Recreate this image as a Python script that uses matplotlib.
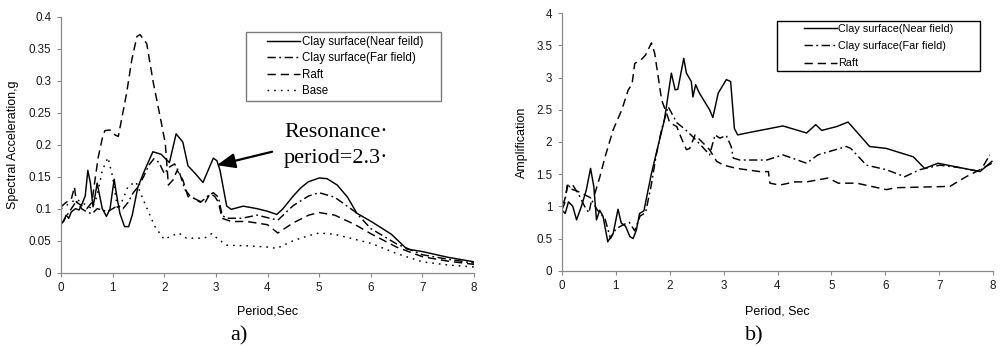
import numpy as np
import matplotlib
matplotlib.use("Agg")
import matplotlib.pyplot as plt
from matplotlib.legend_handler import HandlerLine2D
from matplotlib.ticker import MultipleLocator, FuncFormatter

plt.rcParams["font.family"] = ["Liberation Sans", "DejaVu Sans"]
plt.rcParams["lines.scale_dashes"] = False

# ---------------- a) spectral acceleration (g) vs period (s) ----------------
sa_near_t = [0, 0.05, 0.1, 0.15, 0.2, 0.28, 0.35, 0.42, 0.47, 0.52, 0.57, 0.62, 0.66,
             0.70, 0.75, 0.8, 0.88, 0.95, 1.03, 1.08, 1.14, 1.23, 1.31, 1.38, 1.49,
             1.62, 1.78, 1.94, 2.1, 2.23, 2.36, 2.46, 2.6, 2.75, 2.85, 2.95, 3.02,
             3.08, 3.21, 3.3, 3.53, 3.8, 4.0, 4.18, 4.3, 4.49, 4.65, 4.79, 5.0, 5.15,
             5.35, 5.55, 5.73, 6.05, 6.4, 6.7, 7.0, 7.5, 8.0]
sa_near = [0.077, 0.08, 0.09, 0.085, 0.095, 0.1, 0.098, 0.11, 0.12, 0.16, 0.14, 0.103,
           0.12, 0.14, 0.12, 0.1, 0.088, 0.1, 0.146, 0.12, 0.093, 0.072, 0.072, 0.09,
           0.134, 0.16, 0.189, 0.185, 0.172, 0.217, 0.204, 0.167, 0.155, 0.141, 0.16,
           0.179, 0.175, 0.16, 0.104, 0.099, 0.104, 0.1, 0.096, 0.091, 0.1, 0.119,
           0.133, 0.142, 0.148, 0.147, 0.137, 0.118, 0.093, 0.078, 0.06, 0.037, 0.033,
           0.024, 0.017]

sa_far_t = [0, 0.1, 0.2, 0.3, 0.4, 0.5, 0.6, 0.7, 0.8, 0.9, 1.0, 1.1, 1.2, 1.3, 1.4,
            1.5, 1.6, 1.7, 1.8, 1.9, 2.0, 2.1, 2.2, 2.3, 2.4, 2.5, 2.7, 2.85, 2.95,
            3.05, 3.12, 3.2, 3.5, 3.8, 4.0, 4.2, 4.5, 4.8, 5.0, 5.3, 5.7, 6.0, 6.5,
            7.0, 7.5, 8.0]
sa_far = [0.075, 0.088, 0.1, 0.112, 0.1, 0.095, 0.092, 0.1, 0.098, 0.095, 0.1, 0.105,
          0.1, 0.11, 0.125, 0.135, 0.15, 0.168, 0.178, 0.172, 0.155, 0.165, 0.17,
          0.155, 0.13, 0.12, 0.11, 0.12, 0.125, 0.118, 0.09, 0.085, 0.085, 0.09,
          0.086, 0.082, 0.105, 0.12, 0.125, 0.118, 0.095, 0.069, 0.045, 0.028,
          0.021, 0.015]

sa_raft_t = [0, 0.1, 0.2, 0.26, 0.3, 0.4, 0.5, 0.6, 0.65, 0.72, 0.8, 0.85, 0.95, 1.05,
             1.11, 1.27, 1.37, 1.47, 1.53, 1.66, 1.79, 1.92, 2.02, 2.08, 2.17, 2.25,
             2.36, 2.46, 2.58, 2.78, 2.89, 2.98, 3.05, 3.12, 3.3, 3.6, 4.0, 4.2, 4.5,
             4.8, 5.0, 5.3, 5.7, 6.0, 6.5, 7.0, 7.5, 8.0]
sa_raft = [0.103, 0.11, 0.115, 0.134, 0.11, 0.105, 0.1, 0.11, 0.14, 0.18, 0.21, 0.222,
           0.223, 0.215, 0.213, 0.28, 0.332, 0.369, 0.372, 0.358, 0.296, 0.244, 0.202,
           0.137, 0.145, 0.16, 0.145, 0.119, 0.116, 0.108, 0.124, 0.119, 0.11, 0.085,
           0.08, 0.08, 0.075, 0.062, 0.078, 0.09, 0.094, 0.09, 0.075, 0.061, 0.04,
           0.025, 0.018, 0.013]

sa_base_t = [0, 0.1, 0.2, 0.3, 0.4, 0.5, 0.6, 0.7, 0.8, 0.91, 1.0, 1.1, 1.2, 1.3,
             1.45, 1.62, 1.82, 2.0, 2.1, 2.28, 2.43, 2.6, 2.78, 2.92, 3.05, 3.21, 3.6,
             4.0, 4.18, 4.5, 4.8, 5.0, 5.3, 5.7, 6.0, 6.5, 7.0, 7.5, 8.0]
sa_base = [0.1, 0.105, 0.11, 0.115, 0.11, 0.105, 0.1, 0.12, 0.16, 0.18, 0.15, 0.098,
           0.115, 0.135, 0.142, 0.109, 0.072, 0.052, 0.056, 0.062, 0.054, 0.054,
           0.054, 0.061, 0.052, 0.043, 0.042, 0.04, 0.038, 0.05, 0.058, 0.062, 0.06,
           0.052, 0.046, 0.03, 0.017, 0.012, 0.009]

# ---------------- b) amplification vs period (s) ----------------
amp_near_t = [0, 0.06, 0.12, 0.2, 0.27, 0.36, 0.45, 0.53, 0.59, 0.64, 0.7, 0.76, 0.85,
              0.95, 1.04, 1.1, 1.18, 1.26, 1.32, 1.38, 1.44, 1.52, 1.66, 1.78, 1.9,
              2.03, 2.1, 2.15, 2.26, 2.31, 2.4, 2.43, 2.48, 2.55, 2.74, 2.8, 2.9, 3.05,
              3.13, 3.2, 3.26, 3.49, 3.8, 4.1, 4.3, 4.54, 4.71, 4.82, 5.1, 5.31, 5.71,
              6.02, 6.52, 6.73, 6.98, 7.4, 7.76, 7.98]
amp_near = [0.94, 0.89, 1.07, 1.0, 0.79, 1.0, 1.25, 1.59, 1.31, 0.79, 0.94, 0.85, 0.45,
            0.58, 0.955, 0.74, 0.69, 0.53, 0.5, 0.63, 0.89, 0.93, 1.51, 1.93, 2.34,
            3.07, 2.81, 2.82, 3.3, 3.07, 2.94, 2.7, 2.89, 2.76, 2.5, 2.38, 2.76, 2.97,
            2.94, 2.21, 2.11, 2.15, 2.2, 2.25, 2.2, 2.14, 2.27, 2.18, 2.24, 2.31, 1.93,
            1.9, 1.77, 1.59, 1.67, 1.6, 1.54, 1.7]

amp_far_t = [0, 0.05, 0.1, 0.15, 0.2, 0.3, 0.42, 0.5, 0.55, 0.65, 0.8, 0.9, 1.0, 1.15,
             1.25, 1.35, 1.45, 1.55, 1.65, 1.75, 1.85, 1.97, 2.13, 2.28, 2.43, 2.6,
             2.74, 2.84, 2.93, 3.05, 3.14, 3.18, 3.3, 3.67, 3.8, 4.1, 4.54, 4.75, 5.28,
             5.36, 5.65, 6.02, 6.36, 6.64, 7.01, 7.4, 7.76, 7.94]
amp_far = [0.95, 1.05, 1.35, 1.3, 1.33, 1.2, 1.0, 0.9, 1.1, 0.95, 0.8, 0.5, 0.65, 0.72,
           0.75, 0.62, 0.85, 0.9, 1.3, 1.8, 2.2, 2.55, 2.3, 2.2, 2.08, 1.93, 1.8, 2.11,
           2.06, 2.1, 1.93, 1.75, 1.72, 1.72, 1.72, 1.8, 1.67, 1.8, 1.93, 1.9, 1.64,
           1.57, 1.46, 1.57, 1.64, 1.6, 1.54, 1.8]

amp_raft_t = [0, 0.05, 0.11, 0.17, 0.3, 0.42, 0.54, 0.61, 0.7, 0.8, 0.95, 1.11, 1.23,
              1.3, 1.35, 1.47, 1.55, 1.66, 1.72, 1.85, 1.94, 2.0, 2.13, 2.22, 2.31,
              2.37, 2.47, 2.6, 2.74, 2.87, 3.0, 3.24, 3.67, 3.83, 3.86, 4.04, 4.32,
              4.54, 4.94, 5.13, 5.47, 6.02, 6.2, 6.7, 7.2, 7.5, 7.76, 7.98]
amp_raft = [1.02, 1.1, 1.33, 1.27, 1.23, 1.18, 1.13, 1.2, 1.45, 1.77, 2.19, 2.5, 2.81,
            2.9, 3.22, 3.28, 3.35, 3.54, 3.38, 2.65, 2.45, 2.3, 2.24, 2.05, 1.88, 1.9,
            2.11, 2.0, 1.88, 1.7, 1.64, 1.59, 1.54, 1.54, 1.36, 1.33, 1.38, 1.38,
            1.44, 1.36, 1.36, 1.26, 1.29, 1.3, 1.31, 1.46, 1.57, 1.67]

labels_a = ["Clay surface(Near feild)", "Clay surface(Far field)", "Raft", "Base"]
labels_b = ["Clay surface(Near field)", "Clay surface(Far field)", "Raft"]

STYLE_NEAR = "-"
STYLE_FAR = (0, (6, 2.5, 1.3, 2.5))
STYLE_RAFT = (0, (6, 3.5))
STYLE_BASE = (0, (1.2, 3.6))
LW = 1.05
SPINE = "#8a8a8a"


class PaddedLineHandler(HandlerLine2D):
    """Legend line sample that leaves a blank lead-in before the stroke."""

    def __init__(self, lead=0.35, **kw):
        super().__init__(**kw)
        self.lead = lead

    def get_xdata(self, legend, xdescent, ydescent, width, height, fontsize):
        x0 = -xdescent + self.lead * width
        x1 = -xdescent + width
        return np.array([x0, x1]), np.array([0.5 * (x0 + x1)])


W, H = 1001, 347
fig = plt.figure(figsize=(W / 100, H / 100), dpi=100)


def px_axes(left, right, top, bottom):
    return fig.add_axes([left / W, 1 - bottom / H, (right - left) / W, (bottom - top) / H])


def style_axes(ax):
    for s in ("top", "right"):
        ax.spines[s].set_visible(False)
    for s in ("left", "bottom"):
        ax.spines[s].set_color(SPINE)
        ax.spines[s].set_linewidth(0.9)
    ax.tick_params(direction="out", length=3, width=0.8, color=SPINE,
                   labelsize=8.4, labelcolor="#1a1a1a", pad=4)
    ax.xaxis.set_major_locator(MultipleLocator(1))
    ax.set_xlim(0, 8)
    ax.yaxis.set_major_formatter(FuncFormatter(lambda v, p: f"{v:g}"))


ax1 = px_axes(61, 474, 16.7, 272.7)
ax2 = px_axes(562, 993, 13.3, 270.7)

# panel a
l1, = ax1.plot(sa_near_t, sa_near, color="k", lw=LW, ls=STYLE_NEAR)
l2, = ax1.plot(sa_far_t, sa_far, color="k", lw=LW, ls=STYLE_FAR)
l3, = ax1.plot(sa_raft_t, sa_raft, color="k", lw=LW, ls=STYLE_RAFT)
l4, = ax1.plot(sa_base_t, sa_base, color="k", lw=LW, ls=STYLE_BASE)
style_axes(ax1)
ax1.set_ylim(0, 0.4)
ax1.yaxis.set_major_locator(MultipleLocator(0.05))
ax1.set_xlabel("Period,Sec", fontsize=9)
ax1.set_ylabel("Spectral Acceleration,g", fontsize=9)
ax1.xaxis.set_label_coords(0.5, -0.13)
ax1.yaxis.set_label_coords(-0.102, 0.5)

leg1 = ax1.legend([l1, l2, l3, l4], labels_a, loc="upper left",
                  bbox_to_anchor=(0.447, 0.939 - 0.267, 0.472, 0.267), mode="expand",
                  borderaxespad=0, fontsize=8.3, handlelength=4.4, handletextpad=0.15,
                  borderpad=0.3, labelspacing=0.39, fancybox=False, framealpha=1,
                  handler_map={matplotlib.lines.Line2D: PaddedLineHandler(lead=0.35)})
leg1.get_frame().set_edgecolor("#7a7a7a")
leg1.get_frame().set_linewidth(1.0)

ax1.text(4.32, 0.2125, "Resonance\u00b7", family=["Liberation Serif", "DejaVu Serif"],
         fontsize=16, va="baseline", ha="left")
ax1.text(4.32, 0.171, "period=2.3\u00b7", family=["Liberation Serif", "DejaVu Serif"],
         fontsize=16, va="baseline", ha="left")
ax1.annotate("", xy=(3.02, 0.168), xytext=(4.09, 0.189),
             arrowprops=dict(arrowstyle="-|>,head_length=1.1,head_width=0.45",
                             color="k", lw=1.6, shrinkA=0, shrinkB=0))

# panel b
m1, = ax2.plot(amp_near_t, amp_near, color="k", lw=LW, ls=STYLE_NEAR)
m2, = ax2.plot(amp_far_t, amp_far, color="k", lw=LW, ls=STYLE_FAR)
m3, = ax2.plot(amp_raft_t, amp_raft, color="k", lw=LW, ls=STYLE_RAFT)
style_axes(ax2)
ax2.set_ylim(0, 4)
ax2.yaxis.set_major_locator(MultipleLocator(0.5))
ax2.set_xlabel("Period, Sec", fontsize=9)
ax2.set_ylabel("Amplification", fontsize=9)
ax2.xaxis.set_label_coords(0.5, -0.137)
ax2.yaxis.set_label_coords(-0.078, 0.5)

leg2 = ax2.legend([m1, m2, m3], labels_b, loc="upper left",
                  bbox_to_anchor=(0.498, 0.970 - 0.2, 0.472, 0.2), mode="expand",
                  borderaxespad=0, fontsize=7.8, handlelength=5.3, handletextpad=0.05,
                  borderpad=0.28, labelspacing=0.66, fancybox=False, framealpha=1,
                  handler_map={matplotlib.lines.Line2D: PaddedLineHandler(lead=0.42)})
leg2.get_frame().set_edgecolor("k")
leg2.get_frame().set_linewidth(1.0)

fig.text(239 / W, 1 - 336 / H, "a)", family=["Liberation Serif", "DejaVu Serif"],
         fontsize=16, ha="center", va="center")
fig.text(754 / W, 1 - 336 / H, "b)", family=["Liberation Serif", "DejaVu Serif"],
         fontsize=16, ha="center", va="center")

fig.savefig("out.png", dpi=100, facecolor="white")
